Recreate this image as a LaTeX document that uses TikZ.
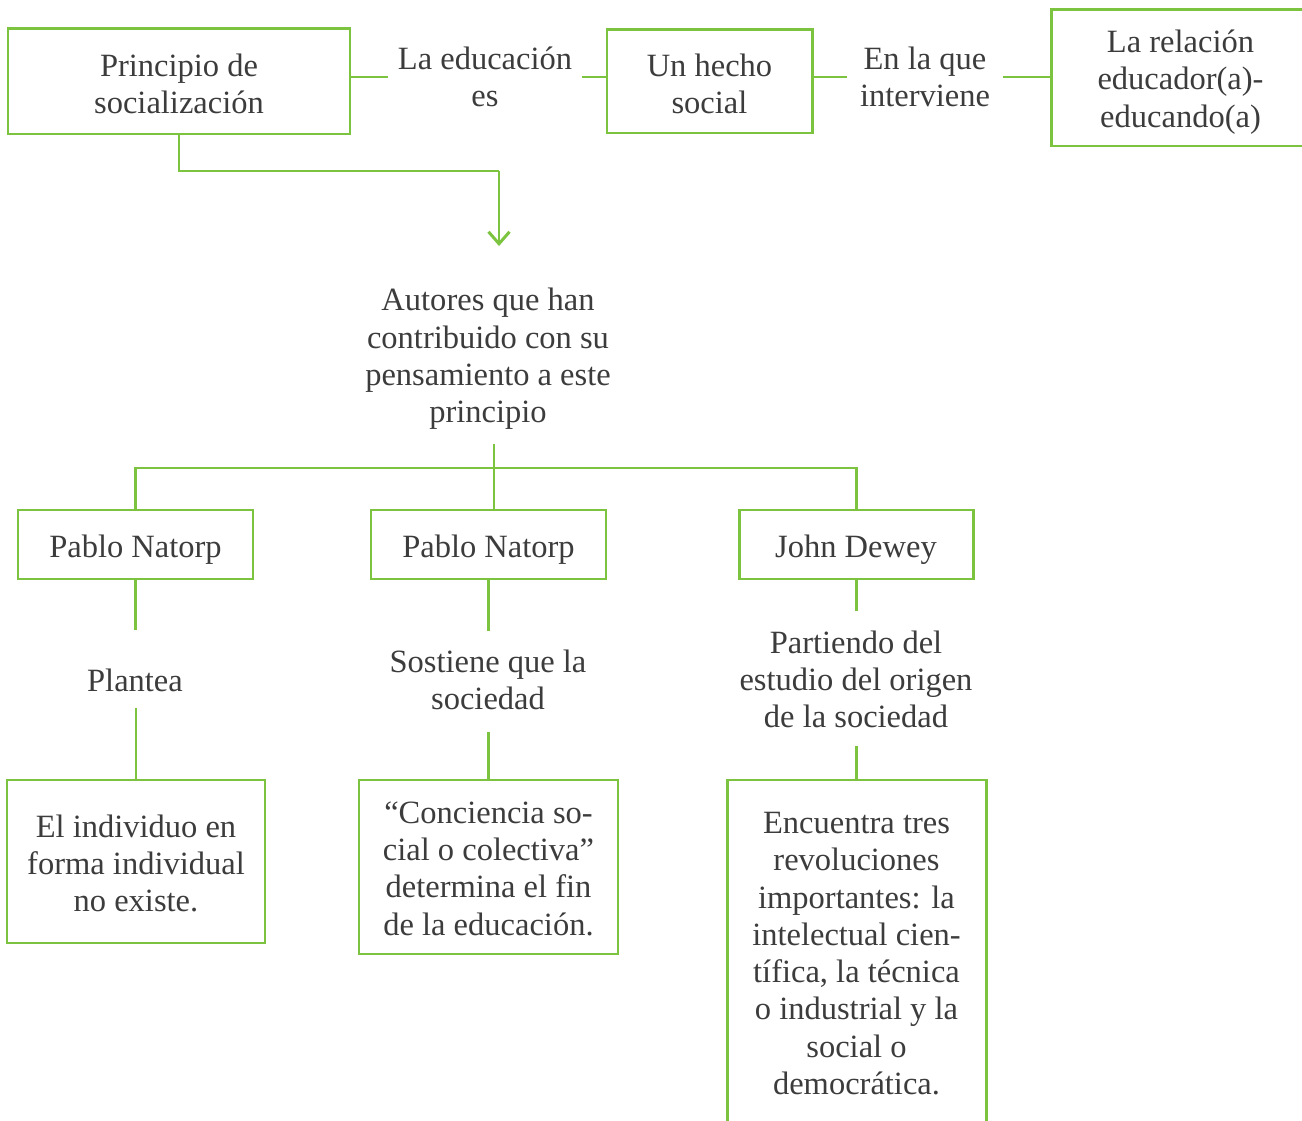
\documentclass[tikz,border=0pt]{standalone}
\usepackage{fontspec}
\setmainfont{Liberation Serif}
\usetikzlibrary{arrows.meta}
\definecolor{lgreen}{RGB}{124,196,64}
\definecolor{txtgray}{RGB}{60,60,60}
\newcommand\diafont{\fontsize{18.5}{21.2}\selectfont}
\newcommand\lowertext[2]{\raisebox{-#1}[\height][\depth]{#2}}
\tikzset{
  conn/.style={draw=lgreen, line width=1.7pt},
  boxnode/.style 2 args={draw=lgreen, line width=1.7pt, align=center, inner sep=0pt,
     font=\diafont, text=txtgray, minimum width=#1*0.02cm, minimum height=#2*0.02cm},
  lbl/.style={align=center, inner sep=0pt, font=\diafont, text=txtgray},
}
\begin{document}
\begin{tikzpicture}[x=0.02cm,y=-0.02cm]
\useasboundingbox (0,0) rectangle (1302,1121);
\clip (0,0) rectangle (1302,1121);

% top row
\node[boxnode={342}{105}] (princ) at (179,81.5) {\lowertext{1.2pt}{\parbox{6cm}{\centering Principio de\\socialización}}};
\node[lbl, minimum width=194*0.02cm] (edu) at (485,77) {La educación\\es};
\node[boxnode={205}{103}] (hecho) at (709.5,81.5) {\lowertext{1.2pt}{\parbox{3.8cm}{\centering Un hecho\\social}}};
\node[lbl, minimum width=156*0.02cm] (inter) at (925,77) {En la que\\interviene};
\node[boxnode={259}{136}] (rel) at (1180.5,78) {\lowertext{2.3pt}{\parbox{5cm}{\centering La relación\\educador(a)-\\educando(a)}}};

\draw[conn] (princ.east |- edu.west) -- (edu.west);
\draw[conn] (edu.east) -- (hecho.west |- edu.east);
\draw[conn] (hecho.east |- inter.west) -- (inter.west);
\draw[conn] (inter.east) -- (rel.west |- inter.east);

% down arrow
\node[lbl] (autores) at (488,359) {Autores que han\\contribuido con su\\pensamiento a este\\principio};
\coordinate (bend) at (499,171);
\draw[conn] (princ.south) |- (bend);
\draw[conn, -{Straight Barb[length=0.24cm,width=0.42cm]}, shorten >=42*0.02cm] (bend) -- (bend |- autores.north);

% tree
\node[boxnode={235}{69}] (pn1) at (135.5,544.5) {\lowertext{3pt}{Pablo Natorp}};
\node[boxnode={235}{69}] (pn2) at (488.5,544.5) {\lowertext{3pt}{Pablo Natorp}};
\node[boxnode={234}{69}] (jd) at (856,544.5) {\lowertext{3pt}{John Dewey}};
\coordinate (junc) at (494,468);
\draw[conn, shorten <=14*0.02cm] (junc |- autores.south) -- (junc |- pn2.north);
\draw[conn] (pn1.north) |- (jd.north |- junc) -- (jd.north);

% labels
\node[lbl] (plantea) at (135,680) {Plantea};
\node[lbl] (sost) at (488,680) {Sostiene que la\\sociedad};
\node[lbl] (part) at (856,679.5) {Partiendo del\\estudio del origen\\de la sociedad};

% bottom boxes
\node[boxnode={258}{163}] (indiv) at (136,861.5) {\lowertext{1pt}{\parbox{5cm}{\centering El individuo en\\forma individual\\no existe.}}};
\node[boxnode={259}{174}] (conc) at (488.5,867) {\lowertext{1pt}{\parbox{5cm}{\centering “Conciencia so-\\cial o colectiva”\\determina el fin\\de la educación.}}};
\node[boxnode={259}{345}] (enc) at (856.5,952.5) {\lowertext{0.6pt}{\parbox{5cm}{\centering Encuentra tres\\revoluciones\\importantes: la\\intelectual cien-\\tífica, la técnica\\o industrial y la\\social o\\democrática.}}};

\draw[conn, shorten >=38*0.02cm] (pn1.south) -- (pn1.south |- plantea.north);
\draw[conn, shorten <=16*0.02cm] (indiv.north |- plantea.south) -- (indiv.north);
\draw[conn, shorten >=19*0.02cm] (pn2.south) -- (pn2.south |- sost.north);
\draw[conn, shorten <=22*0.02cm] (conc.north |- sost.south) -- (conc.north);
\draw[conn, shorten >=19*0.02cm] (jd.south) -- (jd.south |- part.north);
\draw[conn, shorten <=17*0.02cm] (enc.north |- part.south) -- (enc.north);
\end{tikzpicture}
\end{document}
